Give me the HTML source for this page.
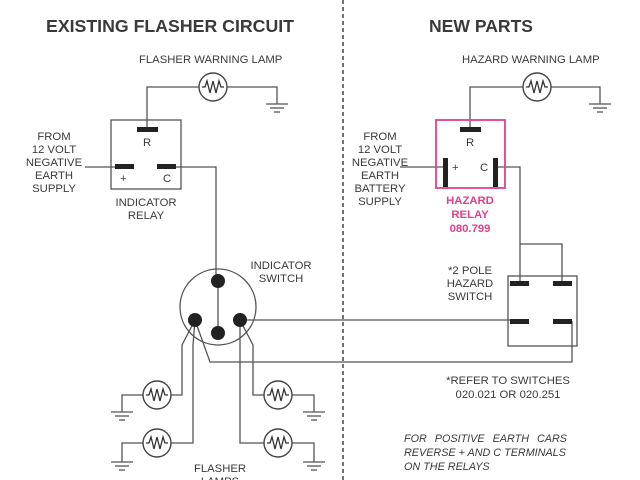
<!DOCTYPE html>
<html><head><meta charset="utf-8"><style>
html,body{margin:0;padding:0;background:#fff;}
svg{display:block;}
text{font-family:"Liberation Sans",sans-serif;fill:#3a3a3a;}
</style></head><body>
<svg width="640" height="480" viewBox="0 0 640 480" xmlns="http://www.w3.org/2000/svg">
<defs>
<g id="lamp"><circle cx="0" cy="0" r="14" fill="#fff" stroke="#444" stroke-width="1.4"/><polyline points="-11,0 -8,0 -6,-6 -3,6 0,-6 3,6 6,-6 8,0 11,0" fill="none" stroke="#333" stroke-width="1.3"/></g>
<g id="gnd" stroke="#555" stroke-width="1.3"><line x1="-11" y1="0" x2="11" y2="0"/><line x1="-7" y1="4" x2="7" y2="4"/><line x1="-3" y1="8" x2="3" y2="8"/></g>
</defs>
<text x="46" y="32" font-size="17.5" font-weight="bold" fill="#333" textLength="248" lengthAdjust="spacingAndGlyphs">EXISTING FLASHER CIRCUIT</text>
<text x="429" y="32" font-size="17.5" font-weight="bold" fill="#333" textLength="104" lengthAdjust="spacingAndGlyphs">NEW PARTS</text>
<line x1="343" y1="0" x2="343" y2="480" stroke="#444" stroke-width="1.5" stroke-dasharray="4,3"/>
<g fill="none" stroke="#555" stroke-width="1.3">
<polyline points="147,130 147,87 199,87"/>
<polyline points="227,87 277,87 277,104"/>
<rect x="111" y="120" width="70" height="69"/>
<line x1="85" y1="167" x2="115" y2="167"/>
<polyline points="176,167 216,167 216,281"/>
<circle cx="218" cy="307" r="38"/>
<line x1="218" y1="281" x2="218" y2="333"/>
<line x1="240" y1="320" x2="520" y2="320"/>
<polyline points="195,320 210,362 572,362 572,321"/>
<polyline points="195,320 182,345 182,395 171,395"/>
<polyline points="195,320 193,345 193,443 171,443"/>
<polyline points="240,320 253,345 253,395 264,395"/>
<polyline points="240,320 240,345 240,443 264,443"/>
<polyline points="143,395 122,395 122,412"/>
<polyline points="143,443 122,443 122,462"/>
<polyline points="292,395 314,395 314,412"/>
<polyline points="292,443 314,443 314,462"/>
<polyline points="470,130 470,87 523,87"/>
<polyline points="551,87 600,87 600,104"/>
<line x1="400" y1="167" x2="445" y2="167"/>
<polyline points="495,167 520,167 520,283"/>
<polyline points="520,244 562,244 562,283"/>
<rect x="508" y="276" width="69" height="70"/>
</g>
<rect x="436" y="120" width="69" height="68" fill="none" stroke="#e0408c" stroke-width="1.8"/>
<g fill="#222">
<rect x="137" y="127" width="21" height="5"/>
<rect x="115" y="164" width="19" height="5"/>
<rect x="157" y="164" width="19" height="5"/>
<rect x="460" y="127" width="21" height="5"/>
<rect x="443" y="158" width="5" height="29"/>
<rect x="493" y="158" width="5" height="29"/>
<rect x="510" y="281" width="19" height="5"/>
<rect x="553" y="281" width="19" height="5"/>
<rect x="510" y="319" width="19" height="5"/>
<rect x="553" y="319" width="19" height="5"/>
<circle cx="218" cy="281" r="7"/>
<circle cx="195" cy="320" r="7"/>
<circle cx="218" cy="333" r="7"/>
<circle cx="240" cy="320" r="7"/>
</g>
<use href="#lamp" x="213" y="87"/>
<use href="#lamp" x="537" y="87"/>
<use href="#lamp" x="157" y="395"/>
<use href="#lamp" x="157" y="443"/>
<use href="#lamp" x="278" y="395"/>
<use href="#lamp" x="278" y="443"/>
<use href="#gnd" x="277" y="104"/>
<use href="#gnd" x="600" y="104"/>
<use href="#gnd" x="122" y="412"/>
<use href="#gnd" x="122" y="462"/>
<use href="#gnd" x="314" y="412"/>
<use href="#gnd" x="314" y="462"/>
<g font-size="11.3">
<text x="139" y="63">FLASHER WARNING LAMP</text>
<text x="462" y="63">HAZARD WARNING LAMP</text>
<text x="143" y="146">R</text>
<text x="120" y="182">+</text>
<text x="163" y="182">C</text>
<text x="466" y="146">R</text>
<text x="452" y="171">+</text>
<text x="480" y="171">C</text>
<g text-anchor="middle">
<text x="54" y="140">FROM</text><text x="54" y="153">12 VOLT</text><text x="54" y="166">NEGATIVE</text><text x="54" y="179">EARTH</text><text x="54" y="192">SUPPLY</text>
<text x="146" y="206">INDICATOR</text><text x="146" y="219">RELAY</text>
<text x="281" y="269">INDICATOR</text><text x="281" y="282">SWITCH</text>
<text x="220" y="472">FLASHER</text><text x="220" y="485">LAMPS</text>
<text x="380" y="140">FROM</text><text x="380" y="153">12 VOLT</text><text x="380" y="166">NEGATIVE</text><text x="380" y="179">EARTH</text><text x="380" y="192">BATTERY</text><text x="380" y="205">SUPPLY</text>
<text x="470" y="274">*2 POLE</text><text x="470" y="287">HAZARD</text><text x="470" y="300">SWITCH</text>
<text x="508" y="384">*REFER TO SWITCHES</text><text x="508" y="398">020.021 OR 020.251</text>
</g>
<g text-anchor="middle" font-weight="bold">
<text x="470" y="204" style="fill:#e0408c">HAZARD</text><text x="470" y="218" style="fill:#e0408c">RELAY</text><text x="470" y="232" style="fill:#e0408c">080.799</text>
</g>
<g font-style="italic" font-size="10.8">
<text x="404" y="442" word-spacing="5">FOR POSITIVE EARTH CARS</text>
<text x="404" y="456">REVERSE + AND C TERMINALS</text>
<text x="404" y="470">ON THE RELAYS</text>
</g>
</g>
</svg>
</body></html>
